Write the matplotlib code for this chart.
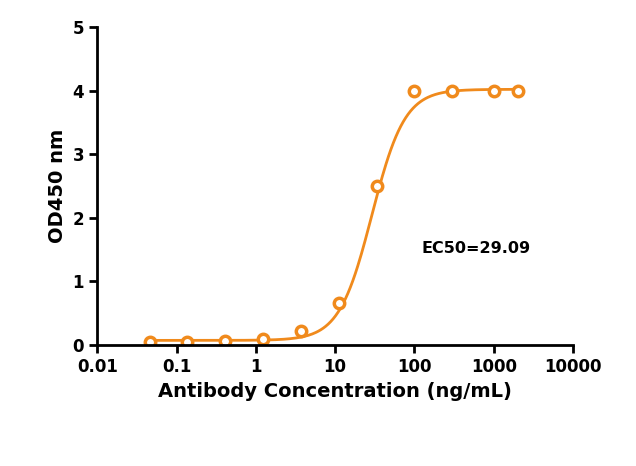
import numpy as np
import matplotlib
matplotlib.use("Agg")
import matplotlib.pyplot as plt

conc = [0.046, 0.137, 0.41, 1.23, 3.7, 11.1, 33.3, 100, 300, 1000, 2000]
od = [0.05, 0.05, 0.06, 0.09, 0.21, 0.66, 2.5, 4.0, 4.0, 4.0, 4.0]
bottom, top, ec50, hill = 0.07, 4.02, 29.09, 2.1
xticks = [0.01, 0.1, 1, 10, 100, 1000, 10000]
xticklabels = ["0.01", "0.1", "1", "10", "100", "1000", "10000"]
col = "#F08A1C"

fig = plt.figure(figsize=(6.36, 4.66), dpi=100)
ax = fig.add_axes([0.153, 0.26, 0.748, 0.682])
xs = np.logspace(np.log10(conc[0]), np.log10(conc[-1]), 300)
ys = bottom + (top - bottom) / (1 + (ec50 / xs) ** hill)
ax.plot(xs, ys, color=col, lw=2)
ax.plot(conc, od, 'o', mfc='white', mec=col, mew=2.5, ms=7.5)
ax.set_xscale('log')
ax.set_xlim(0.01, 10000)
ax.set_ylim(0, 5)
ax.set_xticks(xticks)
ax.set_xticklabels(xticklabels)
ax.minorticks_off()
ax.set_yticks(range(6))
for s in ['top', 'right']:
    ax.spines[s].set_visible(False)
for s in ['left', 'bottom']:
    ax.spines[s].set_linewidth(2)
ax.tick_params(width=2, length=6, labelsize=12)
for l in ax.get_xticklabels() + ax.get_yticklabels():
    l.set_fontweight('bold')
ax.set_xlabel("Antibody Concentration (ng/mL)", fontsize=14, fontweight='bold')
ax.set_ylabel("OD450 nm", fontsize=14, fontweight='bold')
ax.text(600, 1.45, "EC50=29.09", fontsize=11.5, fontweight='bold', ha='center')
fig.savefig("out.png", dpi=100)
